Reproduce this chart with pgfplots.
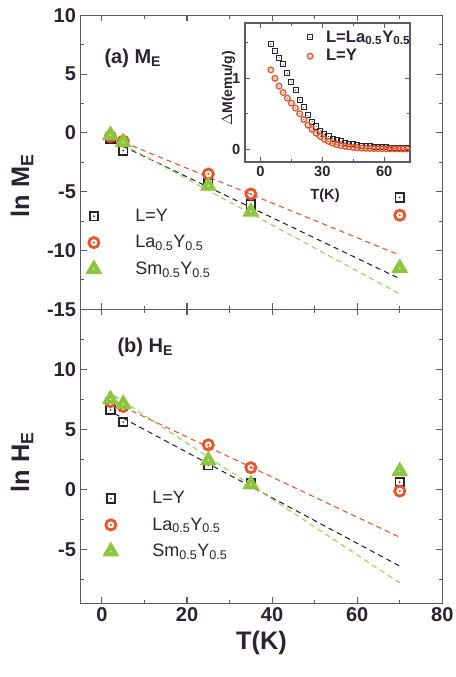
\documentclass[border=0pt]{standalone}
\usepackage{fontspec}
\setmainfont{Liberation Sans}
\usepackage{pgfplots}
\pgfplotsset{compat=1.18}

\definecolor{ink}{HTML}{2B2233}
\definecolor{axgray}{HTML}{5F5866}
\definecolor{orng}{HTML}{E8552A}
\definecolor{grn}{HTML}{8CC63F}

% open square / open circle with a dot in the middle, filled triangle with a white dot
\pgfdeclareplotmark{sqdot}{%
  \pgfpathrectangle{\pgfqpoint{-\pgfplotmarksize}{-\pgfplotmarksize}}{\pgfqpoint{2\pgfplotmarksize}{2\pgfplotmarksize}}%
  \pgfusepathqstroke
  \pgfpathcircle{\pgfpointorigin}{0.22\pgfplotmarksize}\pgfusepathqfill}
\pgfdeclareplotmark{ocdot}{%
  \pgfpathcircle{\pgfpointorigin}{\pgfplotmarksize}\pgfusepathqstroke
  \pgfpathcircle{\pgfpointorigin}{0.25\pgfplotmarksize}\pgfusepathqfill}
\pgfdeclareplotmark{tridot}{%
  \pgfsetfillcolor{grn}%
  \pgfpathmoveto{\pgfqpoint{0pt}{\pgfplotmarksize}}%
  \pgfpathlineto{\pgfqpoint{-0.866\pgfplotmarksize}{-0.5\pgfplotmarksize}}%
  \pgfpathlineto{\pgfqpoint{0.866\pgfplotmarksize}{-0.5\pgfplotmarksize}}%
  \pgfpathclose\pgfusepathqfillstroke
  \pgfsetfillcolor{white}%
  \pgfpathcircle{\pgfpointorigin}{0.09\pgfplotmarksize}\pgfusepathqfill
  \pgfsetfillcolor{grn}}

\pgfplotsset{
  mainax/.style={
    scale only axis, width=271.2pt, height=220.5pt,
    anchor=south west,
    xmin=-5, xmax=80,
    xtick={0,20,40,60,80}, minor xtick={10,30,50,70},
    axis line style={axgray, line width=0.8pt},
    every tick/.style={axgray, line width=0.8pt},
    major tick length=4.5pt, minor tick length=2.8pt,
    tick align=inside,
    /pgf/number format/assume math mode=true,
    ticklabel style={font=\fontsize{15}{17}\selectfont\bfseries, text=ink},
    ylabel style={font=\fontsize{19}{22}\selectfont\bfseries, text=ink, anchor=center},
    legend style={draw=none, fill=none, font=\fontsize{13.5}{16}\selectfont,
      text=ink, row sep=5pt},
    legend cell align=left,
  },
  sqr/.style={only marks, mark=sqdot, mark size=3.2pt, color=ink, line width=1.4pt},
  crc/.style={only marks, mark=ocdot, mark size=3.8pt, color=orng, line width=2.1pt},
  tri/.style={only marks, mark=tridot, mark size=6.6pt, color=grn, line width=0.8pt, line join=round},
  fit/.style={forget plot, no marks, line width=0.8pt, dash pattern=on 4pt off 3pt},
}

\begin{document}
\begin{tikzpicture}
\path[use as bounding box] (0,0) rectangle (341.25pt,507.75pt);

% (b) ln H_E
\begin{axis}[mainax, at={(60.5pt,55.3pt)},
  ymin=-9.5, ymax=15,
  ytick={-5,0,5,10}, minor ytick={-7.5,-2.5,2.5,7.5,12.5},
  xlabel={T(K)},
  xlabel style={font=\fontsize{19}{22}\selectfont\bfseries, text=ink,
    at={(axis description cs:0.5,-0.135)}, anchor=center},
  ylabel={ln H\textsubscript{E}},
  ylabel style={at={(axis description cs:-0.162,0.48)}},
  legend style={at={(axis description cs:0.042,0.40)}, anchor=north west},
  legend image code/.code={\draw[#1] plot coordinates {(0pt,0pt)}; \path (-7pt,0pt) (28pt,0pt);},
]
\addplot[fit, ink] coordinates {(3,6.3) (70,-6.4)};
\addplot[fit, orng] coordinates {(3,7.2) (70,-4.0)};
\addplot[fit, grn!85!white] coordinates {(3,7.8) (70,-7.8)};
\addplot[sqr] coordinates {(2,6.6) (5,5.6) (25,2.0) (35,0.5) (70,0.6)};
\addplot[crc] coordinates {(2,7.3) (5,6.9) (25,3.7) (35,1.8) (70,-0.15)};
\addplot[tri] coordinates {(2,7.5) (5,7.1) (25,2.4) (35,0.4) (70,1.5)};
\legend{L=Y, La\textsubscript{0.5}Y\textsubscript{0.5}, Sm\textsubscript{0.5}Y\textsubscript{0.5}}
\node[anchor=west, font=\fontsize{15}{18}\selectfont\bfseries, text=ink]
  at (axis description cs:0.089,0.872) {(b) H\textsubscript{E}};
\end{axis}

% (a) ln M_E
\begin{axis}[mainax, at={(60.5pt,275.8pt)},
  ymin=-15, ymax=10,
  ytick={-15,-10,-5,0,5,10}, minor ytick={-12.5,-7.5,-2.5,2.5,7.5},
  xticklabels={},
  ylabel={ln M\textsubscript{E}},
  ylabel style={at={(axis description cs:-0.162,0.42)}},
  legend style={at={(axis description cs:-0.005,0.36)}, anchor=north west},
  legend image code/.code={\draw[#1] plot coordinates {(0pt,0pt)}; \path (-7pt,0pt) (28pt,0pt);},
]
\addplot[fit, ink] coordinates {(3,-0.8) (70,-12.4)};
\addplot[fit, orng] coordinates {(3,-0.5) (70,-10.4)};
\addplot[fit, grn!85!white] coordinates {(3,-0.6) (70,-13.7)};
\addplot[sqr] coordinates {(2,-0.5) (5,-1.5) (25,-4.3) (35,-6.1) (70,-5.5)};
\addplot[crc] coordinates {(2,-0.3) (5,-0.7) (25,-3.5) (35,-5.2) (70,-7.0)};
\addplot[tri] coordinates {(2,-0.2) (5,-0.8) (25,-4.5) (35,-6.7) (70,-11.5)};
\legend{L=Y, La\textsubscript{0.5}Y\textsubscript{0.5}, Sm\textsubscript{0.5}Y\textsubscript{0.5}}
\node[anchor=west, font=\fontsize{15}{18}\selectfont\bfseries, text=ink]
  at (axis description cs:0.053,0.854) {(a) M\textsubscript{E}};
\end{axis}

% inset: Delta M vs T
\begin{axis}[scale only axis, width=123.75pt, height=104.25pt,
  at={(183.75pt,386.25pt)}, anchor=south west,
  xmin=-7.5, xmax=72.5, ymin=-0.18, ymax=1.78,
  xtick={0,30,60}, minor xtick={15,45},
  ytick={0,1}, minor ytick={0.5,1.5},
  axis background/.style={fill=white},
  axis line style={axgray, line width=0.8pt},
  every tick/.style={axgray, line width=0.8pt},
  major tick length=3.5pt, minor tick length=2.2pt,
  tick align=inside,
  /pgf/number format/assume math mode=true,
  ticklabel style={font=\fontsize{11}{13}\selectfont\bfseries, text=ink},
  xlabel={T(K)}, ylabel={$\Delta$M(emu/g)},
  xlabel style={font=\fontsize{11}{13}\selectfont\bfseries, text=ink,
    at={(axis description cs:0.485,-0.16)}, anchor=north},
  ylabel style={font=\fontsize{10.5}{13}\selectfont\bfseries, text=ink,
    at={(axis description cs:-0.1,0.53)}, anchor=center},
  legend style={draw=none, fill=none, font=\fontsize{12.5}{14}\selectfont\bfseries,
    text=ink, at={(axis description cs:0.332,0.985)}, anchor=north west, row sep=0pt},
  legend cell align=left,
  legend image code/.code={\draw[#1] plot coordinates {(0pt,0pt)}; \path (-4pt,0pt) (9.5pt,0pt);},
]
\addplot[only marks, mark=sqdot, mark size=1.9pt, color=ink, line width=0.75pt] coordinates {
(5,1.48) (7,1.385) (9,1.29) (11,1.20) (13,1.07) (15,0.95) (17,0.83) (19,0.70)
(21,0.59) (23,0.48) (25,0.39) (27,0.32) (29,0.26) (31,0.21) (33,0.18) (35,0.15)
(37,0.13) (39,0.11) (41,0.09) (43,0.08) (45,0.07) (47,0.06) (49,0.05) (51,0.045)
(53,0.04) (55,0.035) (57,0.03) (59,0.028) (61,0.025) (63,0.022) (65,0.02) (67,0.018)
(69,0.016) (71,0.015)};
\addplot[only marks, mark=ocdot, mark size=2.1pt, color=orng, line width=1pt] coordinates {
(5,1.12) (7,1.0) (9,0.89) (11,0.80) (13,0.72) (15,0.65) (17,0.58) (19,0.50)
(21,0.42) (23,0.34) (25,0.28) (27,0.225) (29,0.18) (31,0.14) (33,0.11) (35,0.085)
(37,0.065) (39,0.05) (41,0.04) (43,0.032) (45,0.025) (47,0.02) (49,0.016) (51,0.013)
(53,0.011) (55,0.009) (57,0.008) (59,0.007) (61,0.006) (63,0.005) (65,0.005) (67,0.004)
(69,0.004) (71,0.003)};
\legend{L=La\textsubscript{0.5}Y\textsubscript{0.5}, L=Y}
\end{axis}
\end{tikzpicture}
\end{document}
